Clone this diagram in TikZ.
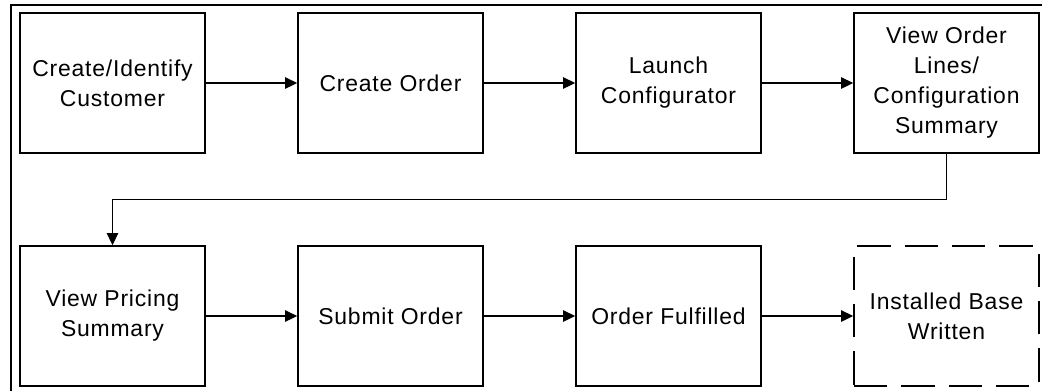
\documentclass[tikz,border=0pt]{standalone}
\usepackage{fontspec}
\setmainfont[LetterSpace=3.5]{Liberation Sans}
\usetikzlibrary{arrows.meta,calc}

\tikzset{
  stepbox/.style={draw=black, line width=1.3pt, minimum width=185*0.75pt,
    minimum height=140*0.75pt, inner sep=0pt, align=center,
    font=\fontsize{17.2pt}{22.5pt}\selectfont},
  futurebox/.style={stepbox, dash pattern=on 25pt off 10.5pt},
  flow/.style={draw=black, line width=1.3pt,
    -{Triangle[length=9pt,width=8.5pt]}},
  frame/.style={draw=black, line width=1.3pt}
}

\begin{document}
\begin{tikzpicture}[x=0.75pt,y=-0.75pt]
  \useasboundingbox (0,0) rectangle (1042,390);
  \clip (0,0) rectangle (1042,390);
  \fill[white] (0,0) rectangle (1042,390);

  % outer frame, running past the right and bottom edges
  \draw[frame] (11,400) -- (11,5) -- (1060,5);

  % first row of steps
  \node[stepbox] (b1) at (112.5,83) {Create/Identify\\Customer};
  \node[stepbox] (b2) at (390.5,83) {Create Order};
  \node[stepbox] (b3) at (668.5,83) {Launch\\Configurator};
  \node[stepbox] (b4) at (946.5,83) {View Order\\Lines/\\Configuration\\Summary};

  % second row of steps
  \node[stepbox] (b5) at (112.5,316) {View Pricing\\Summary};
  \node[stepbox] (b6) at (390.5,316) {Submit Order};
  \node[stepbox] (b7) at (668.5,316) {Order Fulfilled};
  \node[futurebox] (b8) at (946.5,316) {Installed Base\\Written};

  % connectors
  \draw[flow] (b1) -- (b2);
  \draw[flow] (b2) -- (b3);
  \draw[flow] (b3) -- (b4);
  \coordinate (turn) at ($(b4.south)!0.5!(b4.south |- b5.north)$);
  \draw[flow] (b4.south) -- (turn) -| (b5.north);
  \draw[flow] (b5) -- (b6);
  \draw[flow] (b6) -- (b7);
  \draw[flow] (b7) -- (b8);
\end{tikzpicture}
\end{document}
